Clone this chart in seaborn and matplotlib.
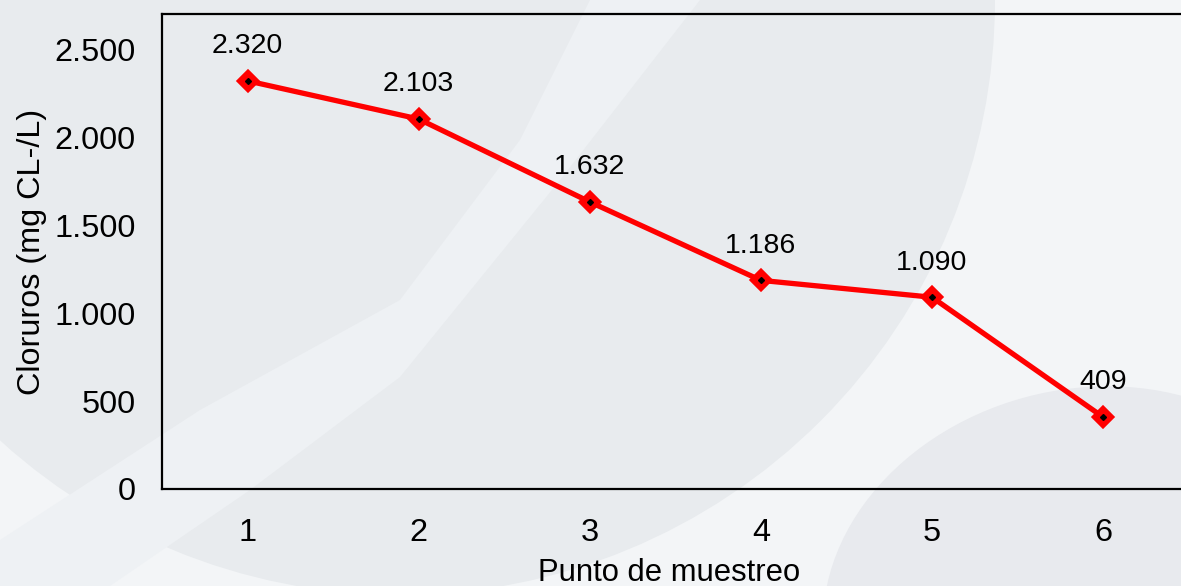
import matplotlib
matplotlib.use("Agg")
import matplotlib.pyplot as plt
from matplotlib.patches import Circle, Ellipse, Polygon
from matplotlib.ticker import FuncFormatter
import seaborn as sns
import pandas as pd

# Chloride concentration per sampling point
puntos = [1, 2, 3, 4, 5, 6]
cloruros = [2320, 2103, 1632, 1186, 1090, 409]
y_ticks = [0, 500, 1000, 1500, 2000, 2500]

df = pd.DataFrame({"Punto de muestreo": puntos, "Cloruros": cloruros})

sns.set_theme(style="white")
plt.rcParams["font.family"] = ["Liberation Sans", "DejaVu Sans"]

W, H = 1181, 586
fig = plt.figure(figsize=(W / 100, H / 100), dpi=100)
fig.patch.set_facecolor("#f3f5f7")

# Decorative backdrop drawn in pixel coordinates
bg = fig.add_axes([0, 0, 1, 1], zorder=0)
bg.set_xlim(0, W)
bg.set_ylim(H, 0)
bg.axis("off")
bg.add_patch(Circle((400, 0), 595, facecolor="#e8ebee", edgecolor="none"))
bg.add_patch(Polygon([(0, 540), (200, 410), (400, 300), (520, 140), (590, 0),
                      (700, 0), (560, 180), (400, 377), (250, 490), (110, 586), (0, 586)],
                     closed=True, facecolor="#eef1f4", edgecolor="none"))
bg.add_patch(Ellipse((1080, 600), 520, 420, angle=-15, facecolor="#e8eaee", edgecolor="none"))

# Main chart axes (right edge runs slightly past the figure border)
left, right, top, bottom = 162, 1188.6, 14, 489
ax = fig.add_axes([left / W, 1 - bottom / H, (right - left) / W, (bottom - top) / H], zorder=1)
ax.set_facecolor("none")

sns.lineplot(data=df, x="Punto de muestreo", y="Cloruros", ax=ax, color="#ff0000",
             linewidth=3.8, marker="D", markersize=9.5, markeredgewidth=3.2,
             markeredgecolor="#ff0000", markerfacecolor="#ff0000")
for ln in ax.lines:
    ln.set_solid_joinstyle("round")
    ln.set_markeredgecolor("#ff0000")
ax.plot(puntos, cloruros, linestyle="none", marker="D", markersize=3,
        color="black", zorder=5)

fmt = lambda v: f"{v:,.0f}".replace(",", ".")
for x, y in zip(puntos, cloruros):
    ax.annotate(fmt(y), (x, y), xytext=(0, 25), textcoords="offset points",
                ha="center", va="center", fontsize=20.5, color="black")

ax.set_xlim(0.5, 6.5)
ax.set_ylim(0, 2700)
ax.set_xticks(puntos)
ax.set_yticks(y_ticks)
ax.yaxis.set_major_formatter(FuncFormatter(lambda v, p: fmt(v)))
ax.tick_params(axis="both", length=0, labelsize=23.4, colors="black")
ax.tick_params(axis="x", pad=21)
ax.tick_params(axis="y", pad=19)
ax.set_xlabel("Punto de muestreo", fontsize=22.3, color="black")
ax.xaxis.set_label_coords(0.4944, -0.145)
ax.set_ylabel("Cloruros (mg CL-/L)", fontsize=23.3, color="black", labelpad=5)
ax.grid(False)
for side, sp in ax.spines.items():
    sp.set_color("black")
    sp.set_linewidth(1.6)
    sp.set_visible(True)

fig.savefig("out.png", dpi=100, facecolor=fig.get_facecolor())
